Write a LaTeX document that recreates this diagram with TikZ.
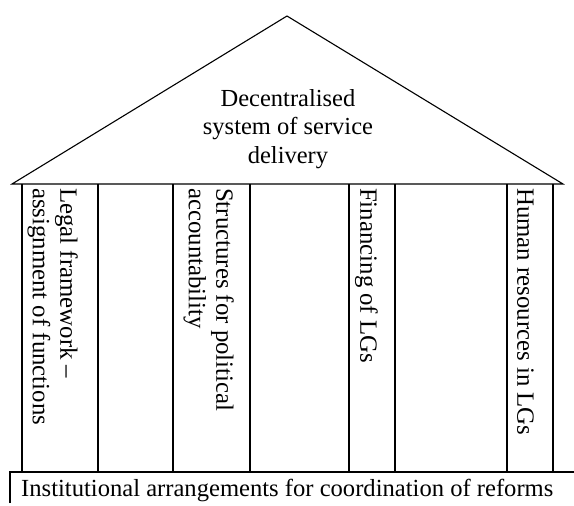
\documentclass[tikz,border=0pt]{standalone}
\usepackage{fontspec}
\setmainfont{Liberation Serif}
\begin{document}
\begin{tikzpicture}[x=1pt,y=-1pt,
  edge/.style={line width=1.1pt, black},
  pillartext/.style={rotate=-90, anchor=north west, inner sep=0pt, align=left,
     font=\fontsize{24.8}{27.5}\selectfont},
  rooftext/.style={align=center, inner sep=0pt, font=\fontsize{24.5}{28.5}\selectfont},
  basetext/.style={anchor=base west, inner sep=0pt, font=\fontsize{24.6}{28}\selectfont}]
\useasboundingbox (0,0) rectangle (574,506);
% roof
\coordinate (roofL) at (12,184);
\coordinate (apex) at (287,16);
\coordinate (roofR) at (563,184);
\draw[edge] (roofL) -- (apex) -- (roofR) -- cycle;
% pillars
\foreach \x in {22,98,173,250,349,395,507,553}{
  \draw[edge] (\x,184) -- (\x,472);
}
% base
\coordinate (baseTL) at (10,472);
\coordinate (baseTR) at (574,472);
\coordinate (baseBL) at (10,503);
\draw[edge] (baseBL) -- (baseTL) -- (baseTR);
% texts
\node[rooftext] (roof) at (288,129) {Decentralised\\system of service\\delivery};
\node[pillartext] (legal) at (78,188) {Legal framework --\\assignment of functions};
\node[pillartext] (struct) at (234,188) {Structures for political\\accountability};
\node[pillartext] (fin) at (378,188) {Financing of LGs};
\node[pillartext] (hr) at (534,188) {Human resources in LGs};
\node[basetext] (base) at (21,496) {Institutional arrangements for coordination of reforms};
\end{tikzpicture}
\end{document}
